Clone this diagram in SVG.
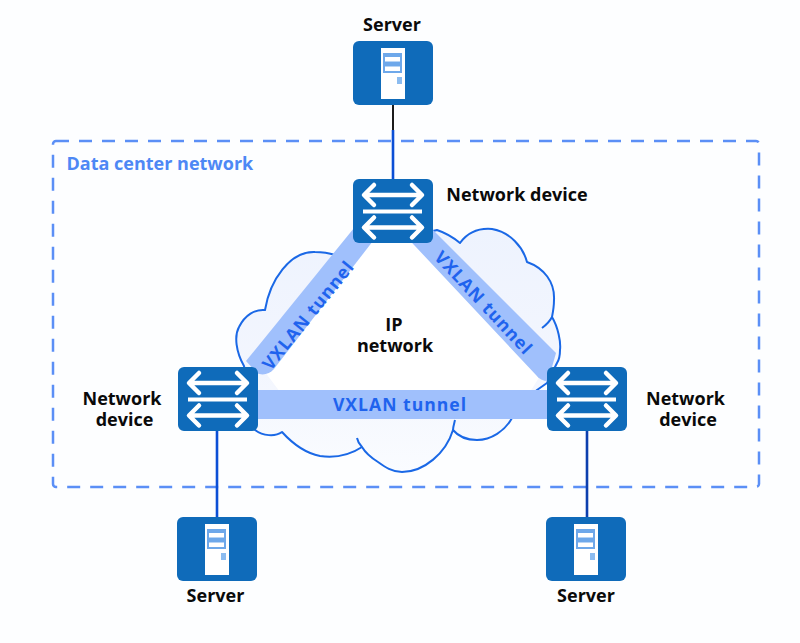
<svg xmlns="http://www.w3.org/2000/svg" width="800" height="643" viewBox="0 0 800 643">
  <defs>
    <style>
      text { font-family: "Open Sans", "Noto Sans", "Liberation Sans", sans-serif; }
      .label { font-size: 18px; font-weight: 700; fill: #0a0a0a; text-anchor: middle; }
      .tunnel-label { font-size: 17.600px; font-weight: 700; fill: #1f63ee; text-anchor: middle; letter-spacing: 1px; }
      .tunnel { fill: #a0c0fc; }
      .case { fill: #0f6bba; }
      .glyph { fill: none; stroke: #fff; stroke-width: 4.500; stroke-linecap: round; stroke-linejoin: round; }
      .link { fill: none; stroke: #0b4fd6; stroke-width: 2.600; }
      .cloud { fill: url(#cloud-fill); stroke: #1a68e6; stroke-width: 2; stroke-linejoin: round; }
      .cloud-line { fill: none; stroke: #1a68e6; stroke-width: 2; }
    </style>
    <linearGradient id="cloud-fill" x1="0" y1="0" x2="0" y2="1">
      <stop offset="0" stop-color="#eef3fe"/>
      <stop offset="0.6" stop-color="#f3f6fe"/>
      <stop offset="1" stop-color="#fafcff"/>
    </linearGradient>
    <g id="switch-face">
      <rect class="case" width="80" height="64" rx="6"/>
      <path class="glyph" d="M13 16H67M21 6L11 16L21 26M59 6L69 16L59 26"/>
      <path class="glyph" d="M10 32.500H69" style="stroke-linecap:butt;stroke-width:4"/>
      <path class="glyph" d="M13 48.500H67M21 38.500L11 48.500L21 58.500M59 38.500L69 48.500L59 58.500"/>
    </g>
    <g id="server-face">
      <rect class="case" width="80" height="64" rx="6"/>
      <rect x="28" y="7" width="24" height="51" fill="#fff"/>
      <rect x="30" y="12" width="19" height="20" fill="#6ea8ea"/>
      <rect x="32" y="16" width="15" height="4.500" fill="#fff"/>
      <rect x="32" y="25.500" width="15" height="4.500" fill="#fff"/>
      <rect x="44" y="36" width="5" height="7" fill="#8cbcf0"/>
    </g>
  </defs>

  <rect width="800" height="643" fill="#fdfeff"/>

  <!-- IP network cloud with the clear centre between the tunnels -->
  <g id="ip-network">
    <path class="cloud" d="M244 366C236 352 234 336 239 327C245 315 255 309 265 310C270 280 290 251 315 252C322 252 329 253 335 255L437 230C446 233 454 238 460 243C468 232 480 228 492 229C510 232 523 247 527 262C544 268 555 282 554 300C554 306 553 312 552 317C558 327 561 342 560 350C560 356 559 360 557 363L547 383L537 390L512 418C505 431 491 440 477 440C466 440 458 436 453 430C446 453 424 472 402 472C392 472 385 467 378 462C370 457 365 452 362 447C350 455 335 458 320 456C305 453 292 443 282 432C275 437 263 436 255 430Z"/>
    <path fill="#fff" d="M355 240L262 368L280 392H530L545 368L430 240Z"/>
    <path class="cloud-line" d="M542 328C546 325 550 321 552 317M357 438C358 443 360 445 362 447M455 420C454 424 453 427 453 430"/>
    <text class="label" x="394" y="331">IP</text>
    <text class="label" x="395" y="352">network</text>
  </g>

  <!-- Site boundary -->
  <g id="data-center">
    <rect x="53" y="141" width="706" height="346" rx="3" fill="none" stroke="#5b8ff6" stroke-width="2.500" stroke-dasharray="13 10"/>
    <text x="66.500" y="169.500" font-size="18" font-weight="700" fill="#4d88f5">Data center network</text>
  </g>

  <!-- Tunnels and access links -->
  <g id="connectors">
    <path class="tunnel" d="M354 228L383 228L274 369C270 374 262 376 257 373L246 361Z"/>
    <path class="tunnel" d="M400 230L430 227L556 353L548 381C543 381 539 379 536 375Z"/>
    <rect class="tunnel" x="257" y="390" width="290" height="29"/>
    <path class="link" d="M393 130V179"/>
    <path d="M393 105V130" fill="none" stroke="#1c1c1c" stroke-width="2"/>
    <path class="link" d="M217 431V517"/>
    <path d="M587 431V517" fill="none" stroke="#0d3fae" stroke-width="2.600"/>
    <text class="tunnel-label" transform="translate(313 319) rotate(-51)">VXLAN tunnel</text>
    <text class="tunnel-label" transform="translate(479 307) rotate(47)">VXLAN tunnel</text>
    <text class="tunnel-label" x="400" y="411">VXLAN tunnel</text>
  </g>

  <g id="server-top">
    <use href="#server-face" x="353" y="41"/>
    <text class="label" x="392" y="31">Server</text>
  </g>
  <g id="device-top">
    <use href="#switch-face" x="353" y="179"/>
    <text class="label" x="517" y="201">Network device</text>
  </g>
  <g id="device-left">
    <use href="#switch-face" x="178" y="367"/>
    <text class="label" x="122" y="405">Network</text>
    <text class="label" x="124.500" y="426">device</text>
  </g>
  <g id="device-right">
    <use href="#switch-face" x="547" y="367"/>
    <text class="label" x="685.500" y="405">Network</text>
    <text class="label" x="688" y="426">device</text>
  </g>
  <g id="server-left">
    <use href="#server-face" x="177" y="517"/>
    <text class="label" x="215.500" y="602">Server</text>
  </g>
  <g id="server-right">
    <use href="#server-face" x="546" y="517"/>
    <text class="label" x="586" y="602">Server</text>
  </g>
</svg>
